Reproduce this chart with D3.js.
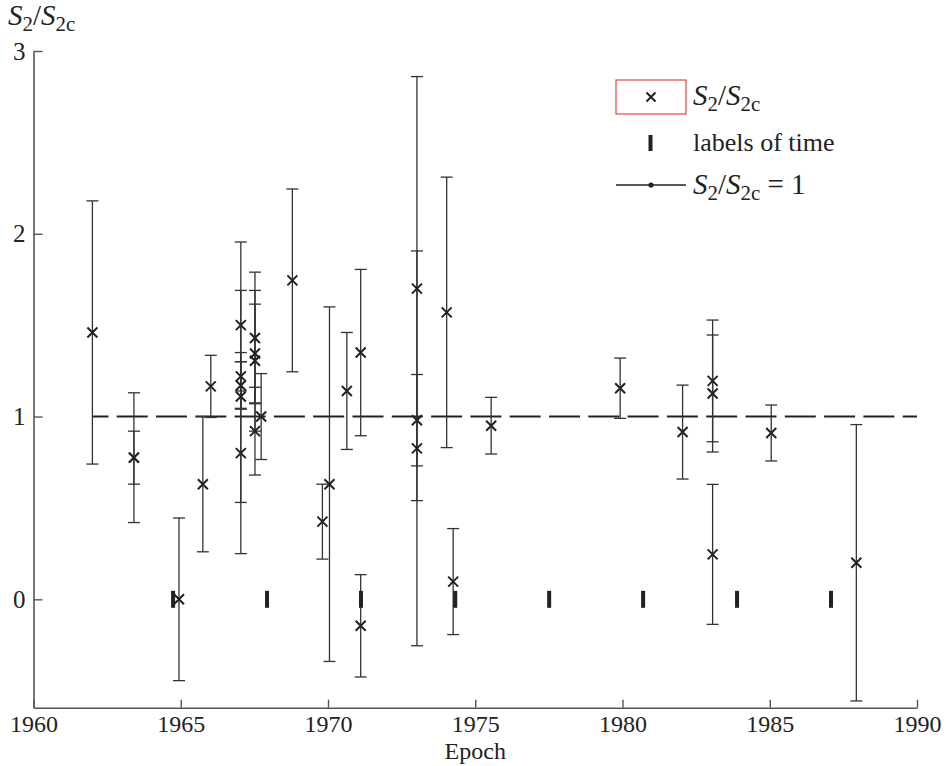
<!DOCTYPE html>
<html>
<head>
<meta charset="utf-8">
<script src="https://cdn.jsdelivr.net/npm/d3@7"></script>
<style>
  body { margin: 0; background: #fff; }
</style>
</head>
<body>
<div class="chart"></div>
<script>
// data
var epochs = [1962.00, 1963.41, 1963.41, 1964.94, 1965.75, 1966.02,
              1967.04, 1967.04, 1967.04, 1967.04, 1967.04,
              1967.52, 1967.52, 1967.52, 1967.52, 1967.73,
              1968.79, 1969.81, 1970.05, 1970.64, 1971.11, 1971.11,
              1973.02, 1973.02, 1973.02, 1974.03, 1974.25, 1975.54,
              1979.92, 1982.04, 1983.06, 1983.06, 1983.06, 1985.05, 1987.94];
var ratios = [1.46, 0.775, 0.775, 0.00, 0.63, 1.165,
              1.50, 1.22, 1.17, 1.11, 0.80,
              1.43, 1.345, 1.305, 0.92, 1.00,
              1.745, 0.425, 0.63, 1.14, 1.35, -0.145,
              1.70, 0.98, 0.826, 1.57, 0.097, 0.95,
              1.155, 0.915, 1.195, 1.126, 0.246, 0.91, 0.20];
var errors = [0.72, 0.355, 0.145, 0.445, 0.37, 0.17,
              0.455, 0.08, 0.13, 0.58, 0.55,
              0.36, 0.27, 0.385, 0.24, 0.235,
              0.50, 0.205, 0.97, 0.32, 0.455, 0.28,
              1.16, 0.25, 1.08, 0.74, 0.29, 0.155,
              0.165, 0.257, 0.333, 0.32, 0.383, 0.153, 0.756];
var timeLabels = [1964.74, 1967.93, 1971.12, 1974.32, 1977.51, 1980.70, 1983.89, 1987.08];
var xTicks = [1960, 1965, 1970, 1975, 1980, 1985, 1990];
var yTicks = [0, 1, 2, 3];
var refLevel = 1;
var refStart = 1962.0;

var width = 946, height = 766;
var serif = "'Liberation Serif', 'Times New Roman', serif";

var svg = d3.select(".chart").append("svg")
            .attr("width", width)
            .attr("height", height)
            .attr("font-family", serif);

var xScale = d3.scaleLinear().domain([1960, 1990]).range([33.5, 917]);
var yScale = d3.scaleLinear().domain([-0.593, 3]).range([707.7, 51]);

var ink = "#222";

// reference line S2/S2c = 1
svg.append("line")
   .attr("x1", xScale(refStart)).attr("x2", xScale(1990))
   .attr("y1", yScale(refLevel)).attr("y2", yScale(refLevel))
   .attr("stroke", ink).attr("stroke-width", 2)
   .attr("stroke-dasharray", "31,8.3")
   .attr("stroke-dashoffset", 15);

var pts = epochs.map((e, i) => ({x: e, y: ratios[i], e: errors[i]}));

// error bars
var bars = svg.append("g").attr("stroke", "#333").attr("stroke-width", 1.3);
bars.selectAll("line.v").data(pts).enter().append("line")
    .attr("x1", d => xScale(d.x)).attr("x2", d => xScale(d.x))
    .attr("y1", d => yScale(d.y + d.e)).attr("y2", d => yScale(d.y - d.e));
bars.selectAll("line.top").data(pts).enter().append("line")
    .attr("x1", d => xScale(d.x) - 6).attr("x2", d => xScale(d.x) + 6)
    .attr("y1", d => yScale(d.y + d.e)).attr("y2", d => yScale(d.y + d.e));
bars.selectAll("line.bot").data(pts).enter().append("line")
    .attr("x1", d => xScale(d.x) - 6).attr("x2", d => xScale(d.x) + 6)
    .attr("y1", d => yScale(d.y - d.e)).attr("y2", d => yScale(d.y - d.e));

// labels of time
svg.selectAll("rect.tl").data(timeLabels).enter().append("rect")
   .attr("x", d => xScale(d) - 2).attr("y", yScale(0) - 8.5)
   .attr("width", 4).attr("height", 17)
   .attr("fill", ink);

// x markers
var cross = "M-5,-5L5,5M-5,5L5,-5";
svg.selectAll("path.pt").data(pts).enter().append("path")
   .attr("d", cross)
   .attr("transform", d => "translate(" + xScale(d.x) + "," + yScale(d.y) + ")")
   .attr("stroke", ink).attr("stroke-width", 2).attr("fill", "none");

// axes
var xAxis = d3.axisBottom(xScale).tickValues(xTicks).tickFormat(d3.format("d"))
              .tickSize(-8).tickSizeOuter(0).tickPadding(7);
var yAxis = d3.axisLeft(yScale).tickValues(yTicks).tickFormat(d3.format("d"))
              .tickSize(-9).tickSizeOuter(0).tickPadding(8);

var gx = svg.append("g").attr("transform", "translate(0," + yScale.range()[0] + ")").call(xAxis);
var gy = svg.append("g").attr("transform", "translate(" + xScale.range()[0] + ",0)").call(yAxis);
[gx, gy].forEach(g => {
  g.attr("font-family", serif).attr("font-size", 25);
  g.select(".domain").attr("stroke", "#555").attr("stroke-width", 1.6);
  g.selectAll(".tick line").attr("stroke", "#555").attr("stroke-width", 1.4);
  g.selectAll(".tick text").attr("fill", ink);
});
gx.attr("font-size", 24);

// axis titles
svg.append("text").attr("x", xScale(1975)).attr("y", 759)
   .attr("text-anchor", "middle").attr("font-size", 24).attr("fill", ink).text("Epoch");

function ratioLabel(sel, tail) {
  sel.attr("fill", ink);
  sel.append("tspan").attr("font-style", "italic").text("S");
  sel.append("tspan").attr("font-size", "0.72em").attr("dy", "0.28em").text("2");
  sel.append("tspan").attr("dy", "-0.2em").text("/");
  sel.append("tspan").attr("font-style", "italic").text("S");
  sel.append("tspan").attr("font-size", "0.72em").attr("dy", "0.28em").text("2c");
  if (tail) sel.append("tspan").attr("dy", "-0.2em").text(tail);
}

ratioLabel(svg.append("text").attr("x", 8).attr("y", 25).attr("font-size", 29));

// legend
var lg = svg.append("g");
lg.append("rect").attr("x", 616).attr("y", 80).attr("width", 70).attr("height", 34)
  .attr("fill", "none").attr("stroke", "#e8473f").attr("stroke-width", 1.2);
lg.append("path").attr("d", "M-4.5,-4.5L4.5,4.5M-4.5,4.5L4.5,-4.5")
  .attr("transform", "translate(651,97)").attr("stroke", ink).attr("stroke-width", 2);
lg.append("rect").attr("x", 648.5).attr("y", 135).attr("width", 4).attr("height", 16).attr("fill", ink);
lg.append("line").attr("x1", 616).attr("x2", 686).attr("y1", 185).attr("y2", 185)
  .attr("stroke", ink).attr("stroke-width", 1.6);
lg.append("circle").attr("cx", 651).attr("cy", 185).attr("r", 2.6).attr("fill", ink);

ratioLabel(lg.append("text").attr("x", 693).attr("y", 105).attr("font-size", 29));
lg.append("text").attr("x", 693).attr("y", 151).attr("font-size", 26).attr("fill", ink).text("labels of time");
ratioLabel(lg.append("text").attr("x", 693).attr("y", 194).attr("font-size", 29), " = 1");
</script>
</body>
</html>
